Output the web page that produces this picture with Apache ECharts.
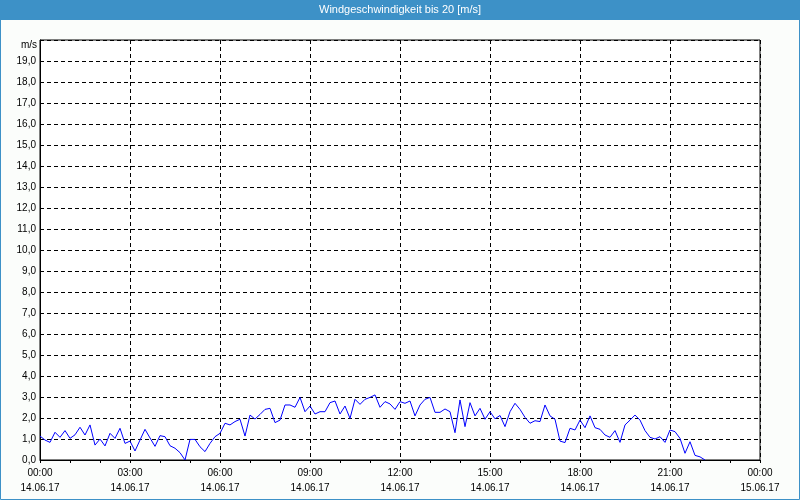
<!DOCTYPE html>
<html>
<head>
<meta charset="utf-8">
<script src="https://cdn.jsdelivr.net/npm/echarts@6/dist/echarts.min.js"></script>
<style>html,body{margin:0;padding:0;background:#fbfdfb}#c{width:800px;height:500px}</style>
</head>
<body>
<div id="c"></div>
<script>
var titleText = 'Windgeschwindigkeit bis 20 [m/s]';
var unitLabel = 'm/s';
var dateLabels = ['14.06.17', '15.06.17'];
var stepMinutes = 10;
// wind speed, one value every 10 minutes starting 14.06.17 00:00
var windSpeed = [
 1.14,0.95,0.84,1.32,1.08,1.40,1.03,1.20,1.56,1.19,1.67,0.71,1.00,0.67,1.27,1.03,1.51,0.79,
 0.90,0.43,0.95,1.46,1.05,0.65,1.16,1.11,0.68,0.56,0.35,0.00,0.98,0.98,0.63,0.40,0.79,1.11,
 1.27,1.75,1.67,1.83,1.94,1.14,2.14,1.95,2.17,2.41,2.46,1.78,1.90,2.62,2.62,2.51,2.98,2.30,
 2.57,2.19,2.30,2.30,2.73,2.81,2.19,2.57,1.98,2.89,2.65,2.89,2.98,3.10,2.51,2.78,2.67,2.41,
 2.78,2.70,2.81,2.10,2.62,2.89,2.98,2.27,2.27,2.43,2.30,1.30,2.86,1.59,2.73,2.10,2.46,1.94,
 2.30,1.96,2.12,1.59,2.30,2.70,2.41,2.03,1.75,1.87,1.83,2.62,2.10,1.94,0.90,0.83,1.51,1.43,
 1.90,1.54,2.10,1.54,1.46,1.19,1.08,1.40,0.84,1.67,1.90,2.14,1.90,1.40,1.08,1.00,1.11,0.84,
 1.43,1.35,1.03,0.32,0.87,0.22,0.15,0.00
];

var seriesData = windSpeed.map(function (v, i) { return [i * stepMinutes / 60, v]; });

function pad(n) { return (n < 10 ? '0' : '') + n; }

var chart = echarts.init(document.getElementById('c'), null, {renderer: 'canvas'});
var font = 'Liberation Sans';
chart.setOption({
  backgroundColor: '#fbfdfb',
  animation: false,
  graphic: [
    {type: 'rect', shape: {x: 0, y: 0, width: 800, height: 20}, style: {fill: '#3d91c7'}, z: 10},
    {type: 'text', x: 400, y: 10, style: {text: titleText, fill: '#ffffff', font: '11px "Liberation Sans"', align: 'center', verticalAlign: 'middle'}, z: 11},
    {type: 'rect', shape: {x: 0.5, y: 0.5, width: 799, height: 499}, style: {fill: null, stroke: '#3d91c7', lineWidth: 1}, z: 10},
    {type: 'text', x: 37, y: 45, style: {text: unitLabel, fill: '#000000', font: '10px "Liberation Sans"', align: 'right', verticalAlign: 'middle'}, z: 11}
  ],
  grid: {left: 40, right: 40, top: 40, bottom: 40, show: true, backgroundColor: '#ffffff', borderColor: '#000000', borderWidth: 1},
  xAxis: {
    type: 'value', min: 0, max: 24, interval: 3,
    axisLine: {show: true, lineStyle: {color: '#000', width: 1}},
    axisTick: {show: true, length: 3, lineStyle: {color: '#000'}},
    minorTick: {show: true, splitNumber: 3, length: 3, lineStyle: {color: '#000'}},
    splitLine: {show: true, lineStyle: {color: '#000', type: [4, 3], width: 1}},
    axisLabel: {
      color: '#000', fontFamily: font, fontSize: 10, margin: 6, lineHeight: 15,
      showMinLabel: true, showMaxLabel: true,
      formatter: function (v) {
        var d = v >= 24 ? dateLabels[1] : dateLabels[0];
        return pad(v % 24) + ':00\n' + d;
      }
    }
  },
  yAxis: {
    type: 'value', min: 0, max: 20, interval: 1,
    axisLine: {show: true, lineStyle: {color: '#000', width: 1}},
    axisTick: {show: false},
    splitLine: {show: true, lineStyle: {color: '#000', type: [4, 3], width: 1}},
    axisLabel: {
      color: '#000', fontFamily: font, fontSize: 10, margin: 4,
      formatter: function (v) { return v >= 20 ? '' : v.toFixed(1).replace('.', ','); }
    }
  },
  series: [{
    type: 'line', data: seriesData, showSymbol: false, symbol: 'none',
    lineStyle: {color: '#0000ff', width: 1}, clip: true
  }]
});
</script>
</body>
</html>
